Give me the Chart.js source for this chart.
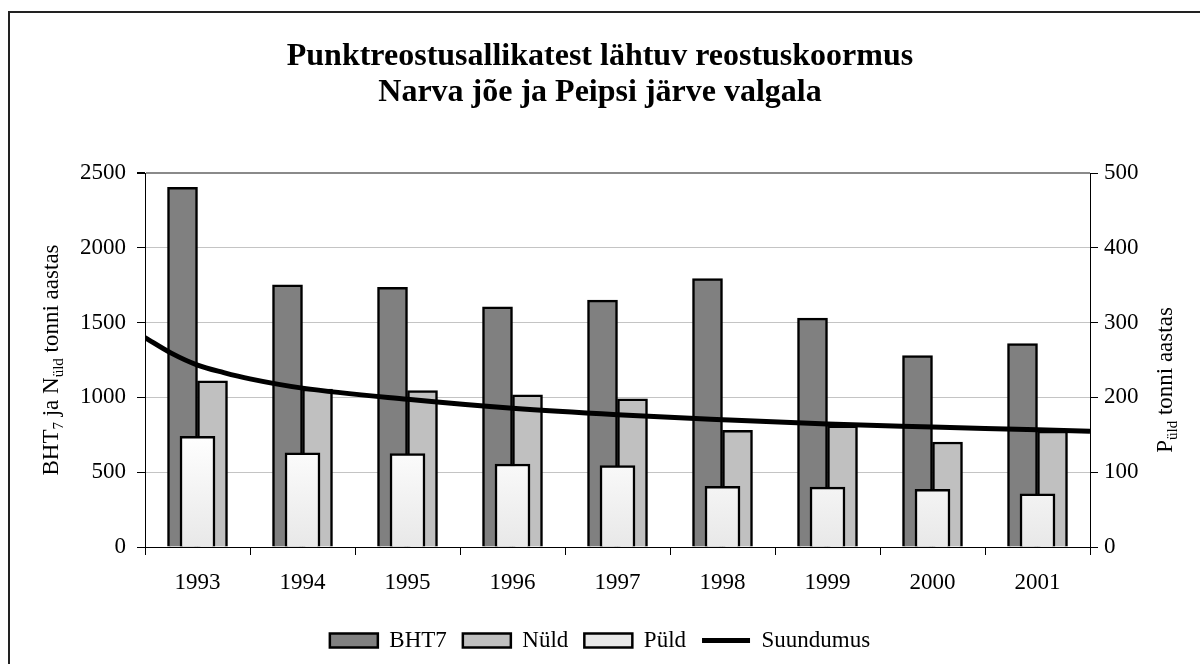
<!DOCTYPE html>
<html>
<head>
<meta charset="utf-8">
<script src="https://cdn.jsdelivr.net/npm/chart.js@4"></script>
<style>
  html, body { margin: 0; padding: 0; background: #fff; }
  canvas { display: block; }
</style>
</head>
<body>
<canvas id="koormus" width="1200" height="664"></canvas>
<script>
// values
const years = ['1993', '1994', '1995', '1996', '1997', '1998', '1999', '2000', '2001'];
const bht7 = [2405, 1752, 1736, 1605, 1650, 1795, 1530, 1280, 1360];
const nyld = [1110, 1055, 1045, 1018, 990, 780, 810, 702, 775];
const pyld = [148, 126, 125, 111, 109, 81, 80, 77, 71];

// trend line (Suundumus), read at points along the plot width
// x is category position: -0.5 = left edge, 0 = 1993 ... 8 = 2001, 8.5 = right edge
const trendX = [-0.5, -0.25, 0, 0.25, 0.5, 1, 2, 3, 4, 5, 6, 7, 8, 8.5];
const trendY = [1400, 1296, 1216, 1166, 1124, 1062, 987, 927, 884, 851, 822, 802, 783, 773];

const legendOrder = ['BHT7', 'Nüld', 'Püld', 'Suundumus'];

const SERIF = '"Liberation Serif", "Times New Roman", serif';

// outer frame of the chart object
const framePlugin = {
  id: 'frame',
  beforeDraw(chart) {
    const c = chart.ctx;
    c.save();
    c.fillStyle = '#fff';
    c.fillRect(0, 0, chart.width, chart.height);
    c.strokeStyle = '#222';
    c.lineWidth = 2;
    c.strokeRect(9, 12, chart.width + 50, chart.height + 50);
    c.restore();
  }
};

// rotated axis titles with subscripts
function drawRotated(c, parts, cx, cy, size) {
  c.save();
  c.translate(cx, cy);
  c.rotate(-Math.PI / 2);
  c.fillStyle = '#000';
  c.textBaseline = 'alphabetic';
  c.textAlign = 'left';
  const subSize = Math.round(size * 0.65);
  let total = 0;
  for (const p of parts) {
    c.font = (p.sub ? subSize : size) + 'px ' + SERIF;
    total += c.measureText(p.t).width;
  }
  let x = -total / 2;
  for (const p of parts) {
    c.font = (p.sub ? subSize : size) + 'px ' + SERIF;
    c.fillText(p.t, x, p.sub ? 5 : 0);
    x += c.measureText(p.t).width;
  }
  c.restore();
}

const axisTitlePlugin = {
  id: 'axisTitles',
  afterDraw(chart) {
    const c = chart.ctx;
    drawRotated(c, [
      { t: 'BHT' }, { t: '7', sub: true }, { t: ' ja N' }, { t: 'üld', sub: true }, { t: ' tonni aastas' }
    ], 58, 360, 23);
    drawRotated(c, [
      { t: 'P' }, { t: 'üld', sub: true }, { t: ' tonni aastas' }
    ], 1172, 380, 23);
  }
};

function pyldFill(context) {
  const chart = context.chart;
  const area = chart.chartArea;
  if (!area) return '#f6f6f6';
  const g = chart.ctx.createLinearGradient(0, chart.scales.y1.getPixelForValue(150), 0, area.bottom);
  g.addColorStop(0, '#ffffff');
  g.addColorStop(1, '#e8e8e8');
  return g;
}

const tickFont = { family: SERIF, size: 23 };

new Chart(document.getElementById('koormus'), {
  type: 'bar',
  data: {
    labels: years,
    datasets: [
      {
        // listed first: bars on 'x' then sit in the middle two slots of the year
        label: 'Suundumus',
        type: 'line',
        data: trendX.map((x, i) => ({ x: x, y: trendY[i] })),
        xAxisID: 'xt',
        yAxisID: 'y',
        borderColor: '#000',
        borderWidth: 5,
        pointRadius: 0,
        pointStyle: 'line',
        tension: 0.4,
        cubicInterpolationMode: 'monotone',
        fill: false,
        order: 0
      },
      {
        label: 'BHT7',
        data: bht7,
        xAxisID: 'x',
        yAxisID: 'y',
        stack: 'b',
        barThickness: 30,
        backgroundColor: '#808080',
        borderColor: '#000',
        borderWidth: 2.5,
        pointStyle: 'rect',
        order: 2
      },
      {
        label: 'Nüld',
        data: nyld,
        xAxisID: 'x',
        yAxisID: 'y',
        stack: 'n',
        barThickness: 30,
        backgroundColor: '#c0c0c0',
        borderColor: '#000',
        borderWidth: 2.5,
        pointStyle: 'rect',
        order: 3
      },
      {
        // drawn over the pair, centred on the year
        label: 'Püld',
        data: pyld,
        xAxisID: 'x',
        yAxisID: 'y1',
        stack: 'b',
        grouped: false,
        barThickness: 35,
        backgroundColor: pyldFill,
        borderColor: '#000',
        borderWidth: 2.5,
        pointStyle: 'rect',
        order: 1
      }
    ]
  },
  options: {
    responsive: false,
    animation: false,
    layout: { padding: { left: 0, right: 0, top: 0, bottom: 2 } },
    plugins: {
      title: {
        display: true,
        text: ['Punktreostusallikatest lähtuv reostuskoormus', 'Narva jõe ja Peipsi järve valgala'],
        color: '#000',
        font: { family: SERIF, size: 32, weight: 'bold', lineHeight: 1.125 },
        padding: { top: 39, bottom: 62 }
      },
      legend: {
        position: 'bottom',
        labels: {
          color: '#000',
          font: tickFont,
          usePointStyle: true,
          pointStyleWidth: 48,
          boxHeight: 14,
          padding: 16,
          sort: (a, b) => legendOrder.indexOf(a.text) - legendOrder.indexOf(b.text)
        }
      },
      tooltip: { enabled: false }
    },
    scales: {
      x: {
        type: 'category',
        offset: true,
        grid: { display: true, drawOnChartArea: false, offset: true, tickLength: 8, color: '#000', tickColor: '#000' },
        border: { color: '#000', width: 1 },
        ticks: { color: '#000', font: tickFont, padding: 14, maxRotation: 0 },
        afterFit(scale) { scale.height = 66; }
      },
      xt: {
        type: 'linear',
        min: -0.5,
        max: 8.5,
        offset: false,
        display: false
      },
      y: {
        position: 'left',
        min: 0,
        max: 2500,
        ticks: { stepSize: 500, color: '#000', font: tickFont, padding: 11, callback: (v) => String(v) },
        grid: {
          color: (ctx) => ctx.tick && ctx.tick.value === 2500 ? '#8a8a8a' : '#c4c4c4',
          lineWidth: (ctx) => ctx.tick && ctx.tick.value === 2500 ? 2 : 1,
          tickColor: '#000',
          tickLength: 8
        },
        border: { color: '#000', width: 1 },
        afterFit(scale) { scale.width = 145; }
      },
      y1: {
        position: 'right',
        min: 0,
        max: 500,
        ticks: { stepSize: 100, color: '#000', font: tickFont, padding: 6, callback: (v) => String(v) },
        grid: { drawOnChartArea: false, tickColor: '#000', tickLength: 8 },
        border: { color: '#000', width: 1 },
        afterFit(scale) { scale.width = 110; }
      }
    }
  },
  plugins: [framePlugin, axisTitlePlugin]
});
</script>
</body>
</html>
